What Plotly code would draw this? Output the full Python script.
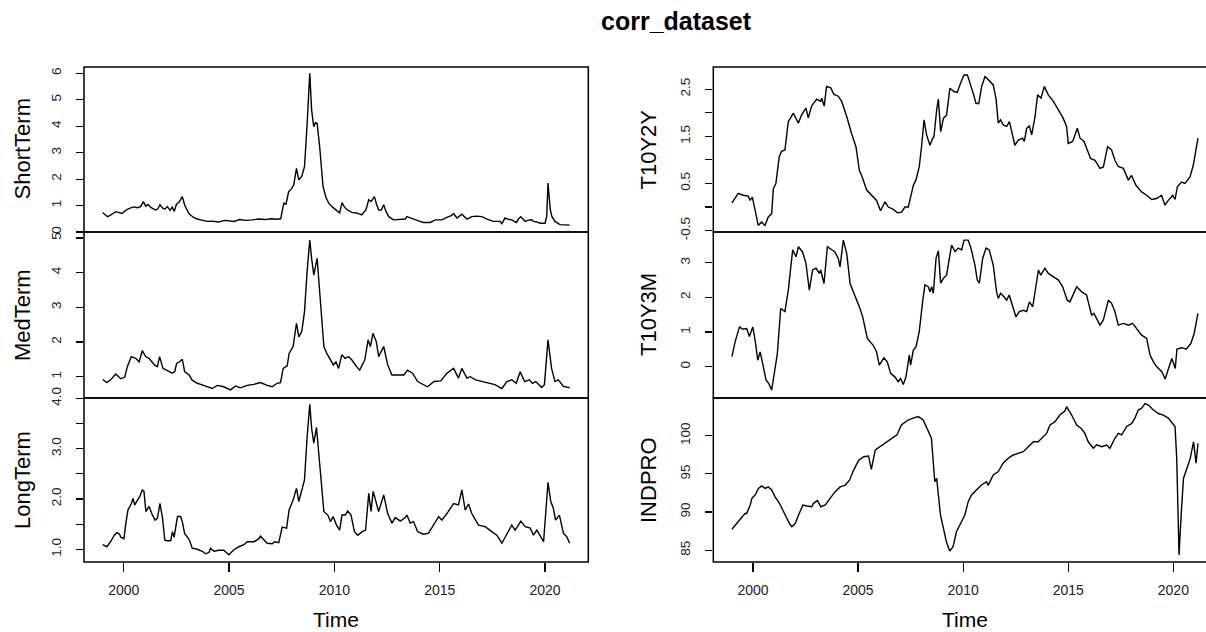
import plotly.graph_objects as go

# ---------------- data (decimal year, value) ----------------
short_term = [
    (1999.00, 0.74), (1999.12, 0.66), (1999.23, 0.58), (1999.35, 0.63), (1999.50, 0.72), (1999.62, 0.77),
    (1999.75, 0.74), (1999.90, 0.70), (2000.01, 0.76), (2000.15, 0.85), (2000.30, 0.90), (2000.49, 0.95),
    (2000.65, 0.92), (2000.80, 0.96), (2000.93, 1.15), (2001.05, 0.98), (2001.15, 1.04), (2001.30, 0.92),
    (2001.52, 0.83), (2001.62, 0.88), (2001.72, 1.03), (2001.85, 0.90), (2001.95, 0.86), (2002.07, 0.96),
    (2002.20, 0.82), (2002.30, 0.94), (2002.40, 0.78), (2002.50, 1.05), (2002.62, 1.12), (2002.78, 1.34),
    (2002.90, 1.00), (2003.10, 0.69), (2003.30, 0.56), (2003.49, 0.49), (2003.70, 0.45), (2003.97, 0.40),
    (2004.20, 0.41), (2004.50, 0.38), (2004.80, 0.44), (2005.00, 0.42), (2005.23, 0.40), (2005.50, 0.47),
    (2005.80, 0.44), (2006.10, 0.46), (2006.40, 0.49), (2006.70, 0.47), (2007.00, 0.50), (2007.28, 0.48),
    (2007.45, 0.50), (2007.55, 0.90), (2007.60, 1.09), (2007.70, 1.05), (2007.83, 1.53), (2007.95, 1.62),
    (2008.07, 1.78), (2008.20, 2.41), (2008.31, 1.97), (2008.45, 2.10), (2008.58, 2.47), (2008.70, 4.00),
    (2008.83, 6.00), (2008.92, 4.60), (2009.02, 3.98), (2009.10, 4.13), (2009.18, 4.10), (2009.30, 3.23),
    (2009.46, 1.72), (2009.60, 1.30), (2009.73, 1.09), (2009.90, 0.95), (2010.05, 0.84), (2010.25, 0.72),
    (2010.36, 1.11), (2010.47, 0.95), (2010.60, 0.84), (2010.83, 0.74), (2011.05, 0.72), (2011.30, 0.65),
    (2011.50, 0.84), (2011.63, 1.22), (2011.74, 1.15), (2011.90, 1.34), (2012.00, 1.05), (2012.10, 0.84),
    (2012.22, 0.82), (2012.34, 1.03), (2012.45, 0.78), (2012.58, 0.58), (2012.81, 0.46), (2013.13, 0.49),
    (2013.36, 0.49), (2013.44, 0.58), (2013.60, 0.52), (2013.76, 0.49), (2014.00, 0.42), (2014.23, 0.36),
    (2014.55, 0.36), (2014.79, 0.46), (2015.10, 0.46), (2015.30, 0.55), (2015.42, 0.58), (2015.55, 0.62),
    (2015.66, 0.69), (2015.82, 0.53), (2016.05, 0.67), (2016.29, 0.49), (2016.52, 0.58), (2016.75, 0.60),
    (2017.00, 0.58), (2017.24, 0.49), (2017.55, 0.40), (2017.87, 0.40), (2017.95, 0.31), (2018.10, 0.53),
    (2018.25, 0.48), (2018.42, 0.46), (2018.63, 0.36), (2018.75, 0.50), (2018.85, 0.58), (2019.06, 0.40),
    (2019.20, 0.45), (2019.37, 0.46), (2019.45, 0.40), (2019.60, 0.38), (2019.77, 0.33), (2020.00, 0.33),
    (2020.08, 0.60), (2020.14, 1.85), (2020.25, 0.84), (2020.32, 0.60), (2020.47, 0.40), (2020.71, 0.28),
    (2020.90, 0.27), (2021.17, 0.26),
]

med_term = [
    (1999.00, 0.92), (1999.20, 0.83), (1999.39, 0.92), (1999.62, 1.08), (1999.86, 0.94), (2000.05, 0.99),
    (2000.17, 1.29), (2000.36, 1.58), (2000.57, 1.53), (2000.73, 1.43), (2000.88, 1.75), (2001.04, 1.58),
    (2001.20, 1.53), (2001.36, 1.40), (2001.47, 1.33), (2001.60, 1.29), (2001.70, 1.58), (2001.86, 1.24),
    (2002.07, 1.17), (2002.30, 1.10), (2002.42, 1.15), (2002.51, 1.38), (2002.65, 1.43), (2002.78, 1.50),
    (2002.89, 1.15), (2003.10, 1.05), (2003.25, 0.90), (2003.49, 0.81), (2003.65, 0.78), (2003.97, 0.71),
    (2004.20, 0.66), (2004.44, 0.75), (2004.75, 0.71), (2005.07, 0.62), (2005.31, 0.73), (2005.54, 0.68),
    (2005.86, 0.75), (2006.18, 0.78), (2006.49, 0.83), (2006.81, 0.75), (2007.05, 0.71), (2007.28, 0.81),
    (2007.44, 0.83), (2007.57, 1.24), (2007.76, 1.31), (2007.85, 1.67), (2008.04, 1.87), (2008.20, 2.54),
    (2008.31, 2.15), (2008.45, 2.30), (2008.58, 2.87), (2008.70, 4.00), (2008.83, 4.94), (2008.92, 4.40),
    (2009.02, 3.93), (2009.18, 4.41), (2009.30, 3.45), (2009.50, 1.87), (2009.64, 1.67), (2009.78, 1.53),
    (2009.95, 1.34), (2010.07, 1.43), (2010.20, 1.24), (2010.35, 1.63), (2010.51, 1.53), (2010.67, 1.58),
    (2010.83, 1.48), (2011.05, 1.29), (2011.20, 1.19), (2011.44, 1.48), (2011.60, 2.06), (2011.71, 1.87),
    (2011.83, 2.25), (2011.99, 2.01), (2012.10, 1.58), (2012.34, 1.87), (2012.53, 1.34), (2012.73, 1.05),
    (2013.00, 1.05), (2013.30, 1.05), (2013.47, 1.19), (2013.71, 1.10), (2013.95, 0.86), (2014.42, 0.71),
    (2014.73, 0.86), (2015.05, 0.88), (2015.34, 1.10), (2015.66, 1.24), (2015.89, 0.96), (2016.05, 1.24),
    (2016.29, 0.96), (2016.45, 1.00), (2016.70, 0.91), (2017.00, 0.86), (2017.30, 0.81), (2017.62, 0.77),
    (2017.95, 0.66), (2018.19, 0.86), (2018.42, 0.91), (2018.63, 0.81), (2018.82, 1.14), (2019.03, 0.86),
    (2019.25, 0.91), (2019.40, 0.81), (2019.56, 0.86), (2019.84, 0.69), (2019.97, 0.77), (2020.14, 2.06),
    (2020.31, 1.24), (2020.47, 0.86), (2020.63, 0.91), (2020.87, 0.72), (2021.17, 0.68),
]

long_term = [
    (1999.00, 1.09), (1999.20, 1.05), (1999.39, 1.16), (1999.55, 1.28), (1999.68, 1.33), (1999.80, 1.30),
    (1999.86, 1.24), (2000.01, 1.21), (2000.10, 1.52), (2000.20, 1.78), (2000.36, 1.91), (2000.44, 2.01),
    (2000.52, 1.88), (2000.65, 1.98), (2000.76, 2.05), (2000.88, 2.18), (2000.96, 2.15), (2001.05, 1.75),
    (2001.20, 1.85), (2001.36, 1.68), (2001.49, 1.58), (2001.60, 1.62), (2001.72, 1.91), (2001.84, 1.62),
    (2001.95, 1.18), (2002.07, 1.17), (2002.23, 1.17), (2002.31, 1.35), (2002.39, 1.24), (2002.55, 1.65),
    (2002.70, 1.65), (2002.78, 1.55), (2002.89, 1.31), (2003.02, 1.24), (2003.12, 1.18), (2003.25, 1.02),
    (2003.49, 1.00), (2003.73, 0.96), (2003.89, 0.91), (2004.05, 0.94), (2004.12, 1.02), (2004.28, 0.96),
    (2004.52, 0.98), (2004.75, 0.98), (2004.99, 0.89), (2005.23, 0.99), (2005.47, 1.05), (2005.70, 1.09),
    (2005.86, 1.15), (2006.18, 1.15), (2006.42, 1.21), (2006.49, 1.26), (2006.65, 1.19), (2006.81, 1.12),
    (2007.05, 1.11), (2007.16, 1.15), (2007.36, 1.13), (2007.52, 1.44), (2007.73, 1.42), (2007.85, 1.78),
    (2008.04, 1.98), (2008.20, 2.21), (2008.31, 1.95), (2008.45, 2.15), (2008.58, 2.38), (2008.70, 3.20),
    (2008.83, 3.88), (2008.92, 3.40), (2009.02, 3.11), (2009.15, 3.42), (2009.30, 2.74), (2009.50, 1.75),
    (2009.69, 1.68), (2009.81, 1.55), (2009.94, 1.65), (2010.10, 1.48), (2010.25, 1.38), (2010.36, 1.68),
    (2010.52, 1.68), (2010.63, 1.76), (2010.79, 1.68), (2010.95, 1.35), (2011.11, 1.28), (2011.32, 1.35),
    (2011.48, 1.38), (2011.63, 2.11), (2011.74, 1.75), (2011.84, 2.15), (2012.10, 1.75), (2012.34, 2.08),
    (2012.53, 1.71), (2012.73, 1.52), (2012.89, 1.63), (2013.13, 1.56), (2013.36, 1.63), (2013.44, 1.68),
    (2013.60, 1.52), (2013.76, 1.55), (2013.95, 1.35), (2014.23, 1.30), (2014.47, 1.32), (2014.71, 1.48),
    (2014.95, 1.65), (2015.10, 1.58), (2015.34, 1.71), (2015.66, 1.91), (2015.89, 1.88), (2016.05, 2.18),
    (2016.21, 1.78), (2016.37, 1.90), (2016.52, 1.71), (2016.84, 1.48), (2017.16, 1.45), (2017.47, 1.35),
    (2017.71, 1.28), (2017.95, 1.12), (2018.11, 1.25), (2018.26, 1.35), (2018.42, 1.48), (2018.58, 1.38),
    (2018.85, 1.56), (2019.06, 1.45), (2019.30, 1.42), (2019.45, 1.28), (2019.61, 1.38), (2019.93, 1.15),
    (2020.14, 2.33), (2020.27, 1.95), (2020.39, 1.82), (2020.50, 1.58), (2020.68, 1.68), (2020.87, 1.32),
    (2021.03, 1.25), (2021.17, 1.12),
]

t10y2y = [
    (1999.00, 0.09), (1999.30, 0.29), (1999.54, 0.25), (1999.78, 0.23), (1999.86, 0.14), (1999.97, 0.21),
    (2000.17, -0.21), (2000.25, -0.39), (2000.41, -0.32), (2000.57, -0.39), (2000.73, -0.21), (2000.89, -0.14),
    (2000.97, 0.39), (2001.09, 0.50), (2001.25, 1.07), (2001.36, 1.18), (2001.52, 1.21), (2001.68, 1.81),
    (2001.92, 1.99), (2002.16, 1.78), (2002.32, 1.96), (2002.52, 2.10), (2002.63, 1.89), (2002.79, 2.14),
    (2003.03, 2.29), (2003.22, 2.24), (2003.27, 2.31), (2003.39, 2.14), (2003.50, 2.56), (2003.70, 2.53),
    (2003.85, 2.39), (2004.06, 2.35), (2004.22, 2.24), (2004.46, 1.92), (2004.69, 1.56), (2004.90, 1.28),
    (2005.06, 0.78), (2005.17, 0.67), (2005.41, 0.36), (2005.65, 0.25), (2005.88, 0.14), (2006.07, -0.08),
    (2006.28, 0.11), (2006.44, 0.00), (2006.68, -0.05), (2006.87, -0.12), (2007.07, -0.11), (2007.23, 0.00),
    (2007.39, 0.00), (2007.50, 0.21), (2007.63, 0.46), (2007.75, 0.57), (2007.91, 0.85), (2008.02, 1.28),
    (2008.14, 1.85), (2008.26, 1.53), (2008.42, 1.31), (2008.55, 1.46), (2008.61, 1.49), (2008.74, 2.06),
    (2008.82, 2.29), (2008.93, 1.60), (2009.06, 1.88), (2009.21, 1.95), (2009.37, 2.52), (2009.56, 2.45),
    (2009.72, 2.43), (2009.88, 2.63), (2010.04, 2.80), (2010.20, 2.80), (2010.36, 2.59), (2010.48, 2.41),
    (2010.61, 2.20), (2010.74, 2.19), (2010.88, 2.56), (2011.04, 2.77), (2011.20, 2.70), (2011.43, 2.59),
    (2011.56, 2.31), (2011.67, 1.78), (2011.78, 1.85), (2011.91, 1.74), (2012.07, 1.71), (2012.20, 1.81),
    (2012.31, 1.60), (2012.46, 1.31), (2012.62, 1.42), (2012.83, 1.46), (2012.91, 1.39), (2013.02, 1.67),
    (2013.15, 1.72), (2013.26, 1.53), (2013.42, 1.92), (2013.54, 2.38), (2013.70, 2.31), (2013.86, 2.56),
    (2014.05, 2.38), (2014.29, 2.24), (2014.53, 2.06), (2014.76, 1.88), (2014.92, 1.71), (2015.00, 1.35),
    (2015.21, 1.39), (2015.43, 1.67), (2015.56, 1.46), (2015.75, 1.39), (2016.06, 1.03), (2016.27, 0.99),
    (2016.51, 0.82), (2016.67, 0.85), (2016.87, 1.28), (2017.06, 1.21), (2017.22, 0.99), (2017.38, 0.86),
    (2017.62, 0.82), (2017.86, 0.57), (2018.01, 0.67), (2018.22, 0.46), (2018.49, 0.32), (2018.73, 0.25),
    (2018.97, 0.16), (2019.20, 0.18), (2019.44, 0.25), (2019.60, 0.04), (2019.76, 0.14), (2019.97, 0.25),
    (2020.08, 0.16), (2020.19, 0.43), (2020.39, 0.53), (2020.55, 0.50), (2020.79, 0.64), (2020.95, 0.89),
    (2021.17, 1.46),
]

t10y3m = [
    (1999.00, 0.29), (1999.15, 0.72), (1999.36, 1.15), (1999.52, 1.08), (1999.70, 1.10), (1999.83, 0.87),
    (1999.99, 1.15), (2000.10, 0.77), (2000.23, 0.19), (2000.34, 0.43), (2000.46, 0.10), (2000.62, -0.38),
    (2000.75, -0.48), (2000.89, -0.67), (2001.05, -0.05), (2001.16, 0.38), (2001.32, 1.68), (2001.52, 1.59),
    (2001.68, 2.21), (2001.89, 3.37), (2002.05, 3.17), (2002.16, 3.46), (2002.36, 3.31), (2002.52, 2.98),
    (2002.68, 2.21), (2002.84, 2.79), (2003.00, 2.84), (2003.16, 2.69), (2003.22, 2.79), (2003.38, 2.40),
    (2003.54, 3.46), (2003.74, 3.37), (2003.90, 3.31), (2004.06, 3.12), (2004.14, 2.88), (2004.30, 3.65),
    (2004.46, 3.27), (2004.62, 2.40), (2004.85, 2.07), (2005.09, 1.68), (2005.22, 1.44), (2005.44, 0.82),
    (2005.72, 0.62), (2005.88, 0.43), (2006.01, 0.05), (2006.23, 0.26), (2006.39, 0.14), (2006.55, -0.19),
    (2006.75, -0.29), (2006.91, -0.43), (2007.02, -0.34), (2007.15, -0.51), (2007.28, -0.29), (2007.44, 0.34),
    (2007.50, 0.05), (2007.63, 0.48), (2007.76, 0.58), (2007.91, 1.01), (2008.07, 1.87), (2008.18, 2.36),
    (2008.34, 2.31), (2008.42, 2.16), (2008.50, 2.31), (2008.58, 2.12), (2008.71, 3.13), (2008.82, 3.34),
    (2008.93, 2.41), (2009.06, 2.55), (2009.21, 2.64), (2009.37, 3.27), (2009.45, 3.51), (2009.61, 3.32),
    (2009.77, 3.42), (2009.93, 3.37), (2010.04, 3.65), (2010.24, 3.65), (2010.37, 3.42), (2010.56, 2.93),
    (2010.67, 2.50), (2010.77, 2.41), (2010.93, 3.13), (2011.09, 3.42), (2011.24, 3.37), (2011.43, 2.93),
    (2011.59, 2.16), (2011.67, 1.97), (2011.78, 2.12), (2011.94, 2.02), (2012.07, 1.92), (2012.19, 2.07),
    (2012.35, 1.78), (2012.51, 1.44), (2012.67, 1.59), (2012.86, 1.63), (2013.02, 1.59), (2013.15, 1.87),
    (2013.31, 1.73), (2013.45, 2.36), (2013.58, 2.79), (2013.69, 2.64), (2013.89, 2.84), (2014.05, 2.69),
    (2014.29, 2.60), (2014.53, 2.50), (2014.73, 2.31), (2014.95, 1.92), (2015.08, 1.87), (2015.24, 2.07),
    (2015.40, 2.31), (2015.64, 2.16), (2015.87, 2.07), (2016.11, 1.49), (2016.22, 1.54), (2016.51, 1.20),
    (2016.67, 1.35), (2016.91, 1.92), (2017.06, 1.83), (2017.22, 1.59), (2017.38, 1.20), (2017.62, 1.25),
    (2017.86, 1.20), (2018.06, 1.25), (2018.25, 1.11), (2018.49, 0.91), (2018.73, 0.82), (2018.89, 0.34),
    (2019.05, 0.14), (2019.21, 0.00), (2019.45, -0.14), (2019.61, -0.35), (2019.77, -0.05), (2019.93, 0.24),
    (2020.09, -0.05), (2020.17, 0.51), (2020.41, 0.55), (2020.61, 0.51), (2020.83, 0.67), (2020.99, 0.96),
    (2021.17, 1.54),
]

indpro = [
    (1999.00, 87.75), (1999.23, 88.53), (1999.40, 89.19), (1999.63, 89.84), (1999.70, 89.80), (1999.87, 90.93),
    (1999.95, 91.80), (2000.10, 92.24), (2000.26, 93.10), (2000.42, 93.42), (2000.58, 93.10), (2000.73, 93.30),
    (2000.89, 92.90), (2001.05, 92.00), (2001.26, 91.15), (2001.45, 90.05), (2001.61, 89.20), (2001.74, 88.50),
    (2001.85, 88.09), (2002.01, 88.50), (2002.17, 89.62), (2002.38, 90.93), (2002.57, 90.80), (2002.80, 90.70),
    (2002.88, 91.15), (2003.07, 91.50), (2003.23, 90.70), (2003.44, 90.93), (2003.67, 91.80), (2003.91, 92.67),
    (2004.15, 93.30), (2004.39, 93.54), (2004.60, 94.20), (2004.79, 95.50), (2005.03, 96.80), (2005.27, 97.25),
    (2005.50, 97.34), (2005.63, 95.60), (2005.82, 98.13), (2006.06, 98.60), (2006.30, 99.10), (2006.54, 99.50),
    (2006.85, 100.10), (2007.06, 101.40), (2007.38, 102.05), (2007.62, 102.30), (2007.86, 102.50), (2008.10, 102.05),
    (2008.33, 100.50), (2008.49, 99.66), (2008.65, 93.98), (2008.74, 94.42), (2008.92, 89.62), (2009.05, 87.88),
    (2009.20, 86.13), (2009.36, 84.90), (2009.52, 85.47), (2009.68, 87.43), (2009.84, 88.31), (2010.08, 89.62),
    (2010.24, 91.36), (2010.40, 92.24), (2010.63, 92.90), (2010.87, 93.55), (2011.11, 93.98), (2011.19, 93.50),
    (2011.43, 94.86), (2011.67, 95.30), (2011.90, 96.39), (2012.14, 97.04), (2012.38, 97.47), (2012.62, 97.70),
    (2012.86, 97.90), (2013.10, 98.56), (2013.34, 99.20), (2013.57, 99.20), (2013.81, 99.90), (2013.97, 100.30),
    (2014.13, 101.40), (2014.36, 101.80), (2014.60, 102.70), (2014.84, 103.23), (2014.92, 103.80), (2015.16, 102.70),
    (2015.40, 101.40), (2015.63, 100.90), (2015.79, 100.30), (2015.95, 99.20), (2016.19, 98.35), (2016.35, 98.80),
    (2016.59, 98.56), (2016.82, 98.78), (2016.98, 98.35), (2017.22, 99.66), (2017.38, 100.30), (2017.54, 100.10),
    (2017.78, 101.20), (2018.02, 101.60), (2018.17, 102.30), (2018.33, 103.35), (2018.49, 103.60), (2018.65, 104.20),
    (2018.81, 104.00), (2019.05, 103.35), (2019.29, 102.90), (2019.52, 102.70), (2019.76, 102.30), (2020.00, 101.40),
    (2020.08, 101.20), (2020.16, 97.00), (2020.27, 84.40), (2020.37, 89.60), (2020.48, 94.40), (2020.64, 95.70),
    (2020.80, 97.00), (2020.96, 99.20), (2021.08, 96.40), (2021.17, 99.00),
]

series_names = ["ShortTerm", "MedTerm", "LongTerm", "T10Y2Y", "T10Y3M", "INDPRO"]
series_data = [short_term, med_term, long_term, t10y2y, t10y3m, indpro]

x_tick_vals = [2000, 2005, 2010, 2015, 2020]
x_tick_text = ["2000", "2005", "2010", "2015", "2020"]

y_ticks = {
    "ShortTerm": ([0, 1, 2, 3, 4, 5, 6], ["0", "1", "2", "3", "4", "5", "6"]),
    "MedTerm": ([1, 2, 3, 4, 5], ["1", "2", "3", "4", "5"]),
    "LongTerm": ([1.0, 1.5, 2.0, 2.5, 3.0, 3.5, 4.0], ["1.0", "", "2.0", "", "3.0", "", "4.0"]),
    "T10Y2Y": ([-0.5, 0.0, 0.5, 1.0, 1.5, 2.0, 2.5], ["-0.5", "", "0.5", "", "1.5", "", "2.5"]),
    "T10Y3M": ([0, 1, 2, 3], ["0", "1", "2", "3"]),
    "INDPRO": ([85, 90, 95, 100], ["85", "90", "95", "100"]),
}
y_ranges = {
    "ShortTerm": [0.0, 6.24],
    "MedTerm": [0.386, 5.17],
    "LongTerm": [0.747, 4.006],
    "T10Y2Y": [-0.53, 2.97],
    "T10Y3M": [-0.90, 3.885],
    "INDPRO": [83.47, 104.93],
}

# ---------------- layout geometry (pixels) ----------------
W, H = 1206, 632
FONT = "Liberation Sans, Arial, Helvetica, sans-serif"
col_left = (84.0, 588.3)
col_right = (713.3, 1216.6)
rows_px = [(67.0, 232.0), (232.0, 398.0), (398.0, 562.0)]
x_start = 1998.113
px_per_year_left = (col_left[1] - col_left[0]) / (2022.053 - x_start)
px_per_year_right = 21.02

fig = go.Figure()
layout = dict(
    width=W, height=H, margin=dict(l=0, r=0, t=0, b=0),
    paper_bgcolor="white", plot_bgcolor="white", showlegend=False,
    font=dict(family=FONT, color="#000"), hovermode=False,
)

shapes = []
annotations = []
for i, (name, data) in enumerate(zip(series_names, series_data)):
    col = i // 3
    row = i % 3
    idx = i + 1
    xs = [p[0] for p in data]
    ys = [p[1] for p in data]
    xname = "x" if idx == 1 else f"x{idx}"
    yname = "y" if idx == 1 else f"y{idx}"
    fig.add_trace(go.Scatter(x=xs, y=ys, mode="lines", xaxis=xname, yaxis=yname,
                             line=dict(color="#000", width=1.4), hoverinfo="skip"))
    cpx = col_left if col == 0 else col_right
    if col == 0:
        xr = [x_start, x_start + (cpx[1] - cpx[0]) / px_per_year_left]
        xdom = [cpx[0] / W, cpx[1] / W]
    else:
        xr = [x_start, x_start + (W - cpx[0]) / px_per_year_right]
        xdom = [cpx[0] / W, 1.0]
    top, bot = rows_px[row]
    ydom = [1 - bot / H, 1 - top / H]
    bottom_row = row == 2
    xa = dict(domain=xdom, range=xr, anchor=yname, showgrid=False, zeroline=False,
              showline=False, automargin=False, fixedrange=True)
    if bottom_row:
        xa.update(tickmode="array", tickvals=x_tick_vals, ticktext=x_tick_text,
                  ticks="outside", ticklen=9, tickwidth=1.2, tickcolor="#000",
                  tickfont=dict(family=FONT, size=14, color="#222"), ticklabelstandoff=6)
    else:
        xa.update(showticklabels=False, ticks="")
    tv, tt = y_ticks[name]
    ya = dict(domain=ydom, range=y_ranges[name], anchor=xname, showgrid=False, zeroline=False,
              showline=False, automargin=False, fixedrange=True,
              tickmode="array", tickvals=tv, ticktext=tt, ticks="outside", ticklen=7,
              tickwidth=1.2, tickcolor="#000", tickangle=-90,
              tickfont=dict(family=FONT, size=13.5, color="#222"), ticklabelstandoff=10)
    layout["xaxis" if idx == 1 else f"xaxis{idx}"] = xa
    layout["yaxis" if idx == 1 else f"yaxis{idx}"] = ya

    # panel box
    shapes.append(dict(type="rect", xref="paper", yref="paper",
                       x0=cpx[0] / W, x1=cpx[1] / W, y0=1 - bot / H, y1=1 - top / H,
                       line=dict(color="#000", width=1.5), layer="above"))
    # y-axis title
    title_x = 22 if col == 0 else 648
    annotations.append(dict(text=name, xref="paper", yref="paper",
                            x=title_x / W, y=1 - (top + bot) / 2 / H,
                            xanchor="center", yanchor="middle", showarrow=False,
                            textangle=-90, font=dict(family=FONT, size=22, color="#000")))

for cpx in (col_left, col_right):
    annotations.append(dict(text="Time", xref="paper", yref="paper",
                            x=(cpx[0] + cpx[1]) / 2 / W, y=1 - 619 / H,
                            xanchor="center", yanchor="middle", showarrow=False,
                            font=dict(family=FONT, size=21, color="#000")))

annotations.append(dict(text="<b>corr_dataset</b>", xref="paper", yref="paper",
                        x=676 / W, y=1 - 21.5 / H, xanchor="center", yanchor="middle",
                        showarrow=False, font=dict(family=FONT, size=25, color="#000")))

layout["shapes"] = shapes
layout["annotations"] = annotations
fig.update_layout(**layout)
fig.write_html("out.html", config={"displayModeBar": False, "staticPlot": True})
